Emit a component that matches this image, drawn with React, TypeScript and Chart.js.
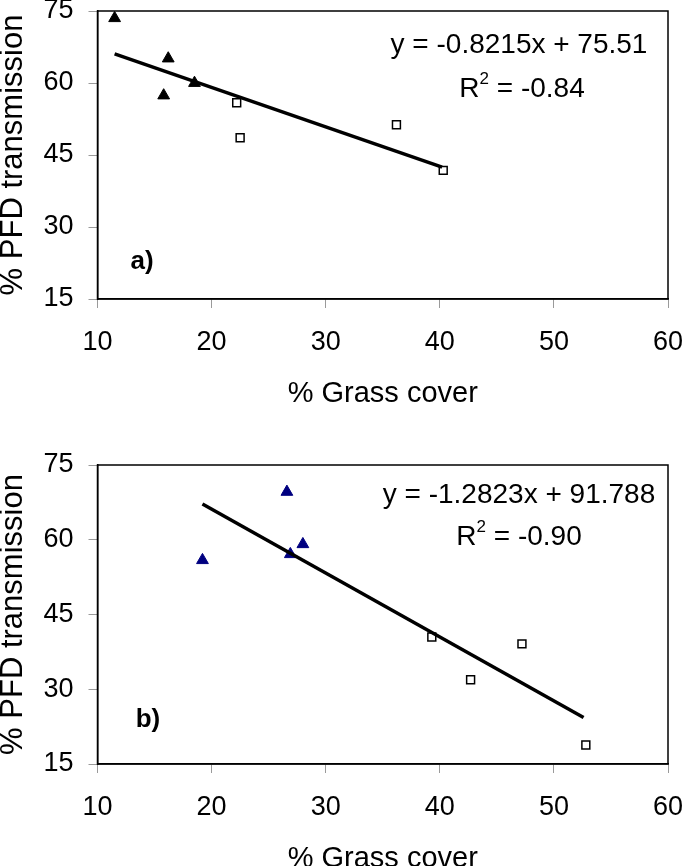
import React, { useEffect, useRef } from 'react';
import { Chart, registerables } from 'chart.js';

Chart.register(...registerables);

const FONT = "'Liberation Sans', Arial, Helvetica, sans-serif";

// ---- data ----
const xTickValues = [10, 20, 30, 40, 50, 60];
const yTickValues = [15, 30, 45, 60, 75];

// panel a
const grassA_tri = [11.5, 16.2, 15.8, 18.5];
const pfdA_tri = [73.5, 65.1, 57.4, 60.0];
const grassA_sq = [22.2, 22.5, 36.2, 40.3];
const pfdA_sq = [55.9, 48.6, 51.3, 41.8];
const trendA_x = [11.5, 40.2];
const trendA_y = [66.06, 42.49];
const eqA = 'y = -0.8215x + 75.51';
const r2A = '-0.84';

// panel b
const grassB_tri = [19.2, 26.6, 26.9, 28.0];
const pfdB_tri = [55.9, 69.6, 57.1, 59.1];
const grassB_sq = [39.3, 42.7, 47.2, 52.8];
const pfdB_sq = [40.5, 31.9, 39.1, 18.8];
const trendB_x = [19.2, 52.6];
const trendB_y = [67.17, 24.34];
const eqB = 'y = -1.2823x + 91.788';
const r2B = '-0.90';

const xTitle = '% Grass cover';
const yTitle = '% PFD transmission';

type Panel = {
  canvasTop: number;
  height: number;
  areaTop: number;
  areaBottom: number;
  triX: number[];
  triY: number[];
  triColor: string;
  sqX: number[];
  sqY: number[];
  trX: number[];
  trY: number[];
  eq: string;
  r2: string;
  label: string;
  eqPos: [number, number];
  r2Pos: [number, number];
  labelPos: [number, number];
};

const panels: Panel[] = [
  {
    canvasTop: 0, height: 430, areaTop: 11, areaBottom: 299,
    triX: grassA_tri, triY: pfdA_tri, triColor: '#000000',
    sqX: grassA_sq, sqY: pfdA_sq, trX: trendA_x, trY: trendA_y,
    eq: eqA, r2: r2A, label: 'a)',
    eqPos: [519, 45], r2Pos: [522, 89], labelPos: [142, 262],
  },
  {
    canvasTop: 430, height: 470, areaTop: 35, areaBottom: 334,
    triX: grassB_tri, triY: pfdB_tri, triColor: '#000080',
    sqX: grassB_sq, sqY: pfdB_sq, trX: trendB_x, trY: trendB_y,
    eq: eqB, r2: r2B, label: 'b)',
    eqPos: [519, 65], r2Pos: [519, 107], labelPos: [148, 290],
  },
];

const zip = (xs: number[], ys: number[]) => xs.map((x, i) => ({ x, y: ys[i] }));

function makeOverlay(p: Panel) {
  return {
    id: 'overlay',
    afterDatasetsDraw(chart: any) {
      const { ctx, chartArea: a } = chart;
      ctx.save();
      ctx.strokeStyle = '#000';
      ctx.lineWidth = 1.5;
      ctx.strokeRect(a.left, a.top, a.right - a.left, a.bottom - a.top);

      ctx.fillStyle = '#000';
      ctx.textBaseline = 'middle';
      ctx.textAlign = 'center';
      ctx.font = `28px ${FONT}`;
      ctx.fillText(p.eq, p.eqPos[0], p.eqPos[1]);

      // R² line
      const big = `28px ${FONT}`;
      const small = `17px ${FONT}`;
      ctx.font = big;
      const wR = ctx.measureText('R').width;
      const rest = ' = ' + p.r2;
      const wRest = ctx.measureText(rest).width;
      ctx.font = small;
      const w2 = ctx.measureText('2').width;
      const total = wR + w2 + wRest;
      let x = p.r2Pos[0] - total / 2;
      const y = p.r2Pos[1];
      ctx.textAlign = 'left';
      ctx.font = big;
      ctx.fillText('R', x, y);
      x += wR;
      ctx.font = small;
      ctx.fillText('2', x, y - 10);
      x += w2;
      ctx.font = big;
      ctx.fillText(rest, x, y);

      ctx.font = `bold 26px ${FONT}`;
      ctx.textAlign = 'center';
      ctx.fillText(p.label, p.labelPos[0], p.labelPos[1]);
      ctx.restore();
    },
  };
}

function PanelChart({ p }: { p: Panel }) {
  const ref = useRef<HTMLCanvasElement | null>(null);
  useEffect(() => {
    if (!ref.current) return;
    const xAxisHeight = p.height - p.areaBottom;
    const xTitleFont = { family: FONT, size: 29, lineHeight: 1.2 };
    const xTitlePadBottom = p.height - (p.areaBottom + 95) - (29 * 1.2) / 2;
    const chart = new Chart(ref.current, {
      type: 'scatter',
      data: {
        datasets: [
          {
            type: 'line',
            data: zip(p.trX, p.trY),
            borderColor: '#000',
            borderWidth: 3.5,
            pointRadius: 0,
            fill: false,
          } as any,
          {
            data: zip(p.triX, p.triY),
            pointStyle: 'triangle',
            pointRadius: 6.8,
            backgroundColor: p.triColor,
            borderColor: p.triColor,
            borderWidth: 1,
          },
          {
            data: zip(p.sqX, p.sqY),
            pointStyle: 'rect',
            pointRadius: 5.6,
            backgroundColor: '#fff',
            borderColor: '#000',
            borderWidth: 1.5,
          },
        ],
      },
      options: {
        animation: false,
        responsive: false,
        events: [],
        layout: { padding: { top: p.areaTop, right: 17, left: 0, bottom: 0 } },
        plugins: { legend: { display: false }, tooltip: { enabled: false } },
        scales: {
          x: {
            type: 'linear',
            min: xTickValues[0],
            max: xTickValues[xTickValues.length - 1],
            afterBuildTicks: (s: any) => { s.ticks = xTickValues.map((v) => ({ value: v })); },
            ticks: { color: '#000', padding: 18, font: { family: FONT, size: 27, lineHeight: 1.2 } },
            grid: { drawOnChartArea: false, drawTicks: true, tickLength: 9, color: '#9a9a9a' },
            border: { display: true, color: '#000', width: 1.5 },
            title: { display: true, text: xTitle, color: '#000', font: xTitleFont, padding: { top: 0, bottom: xTitlePadBottom } },
            afterFit: (s: any) => {
              s.height = xAxisHeight;
              s.paddingLeft = 0;
              s.paddingRight = 0;
            },
          },
          y: {
            type: 'linear',
            min: yTickValues[0],
            max: yTickValues[yTickValues.length - 1],
            afterBuildTicks: (s: any) => { s.ticks = yTickValues.map((v) => ({ value: v })); },
            ticks: { color: '#000', padding: 15, font: { family: FONT, size: 27, lineHeight: 0.8 } },
            grid: { drawOnChartArea: false, drawTicks: true, tickLength: 9, color: '#9a9a9a' },
            border: { display: true, color: '#000', width: 1.5 },
            title: { display: true, text: yTitle, color: '#000', font: { family: FONT, size: 31, lineHeight: 0.85 }, padding: 0 },
            afterFit: (s: any) => {
              s.width = 97.5;
              s.paddingTop = 0;
              s.paddingBottom = 0;
            },
          },
        },
      } as any,
      plugins: [makeOverlay(p)],
    });
    return () => chart.destroy();
  }, [p]);
  return (
    <canvas
      ref={ref}
      width={685}
      height={p.height}
      style={{ position: 'absolute', left: 0, top: p.canvasTop, width: 685, height: p.height, display: 'block' }}
    />
  );
}

export default function App() {
  return (
    <div style={{ position: 'absolute', left: 0, top: 0, width: 685, height: 866, overflow: 'hidden', background: '#fff' }}>
      {panels.map((p, i) => (
        <PanelChart key={i} p={p} />
      ))}
    </div>
  );
}
